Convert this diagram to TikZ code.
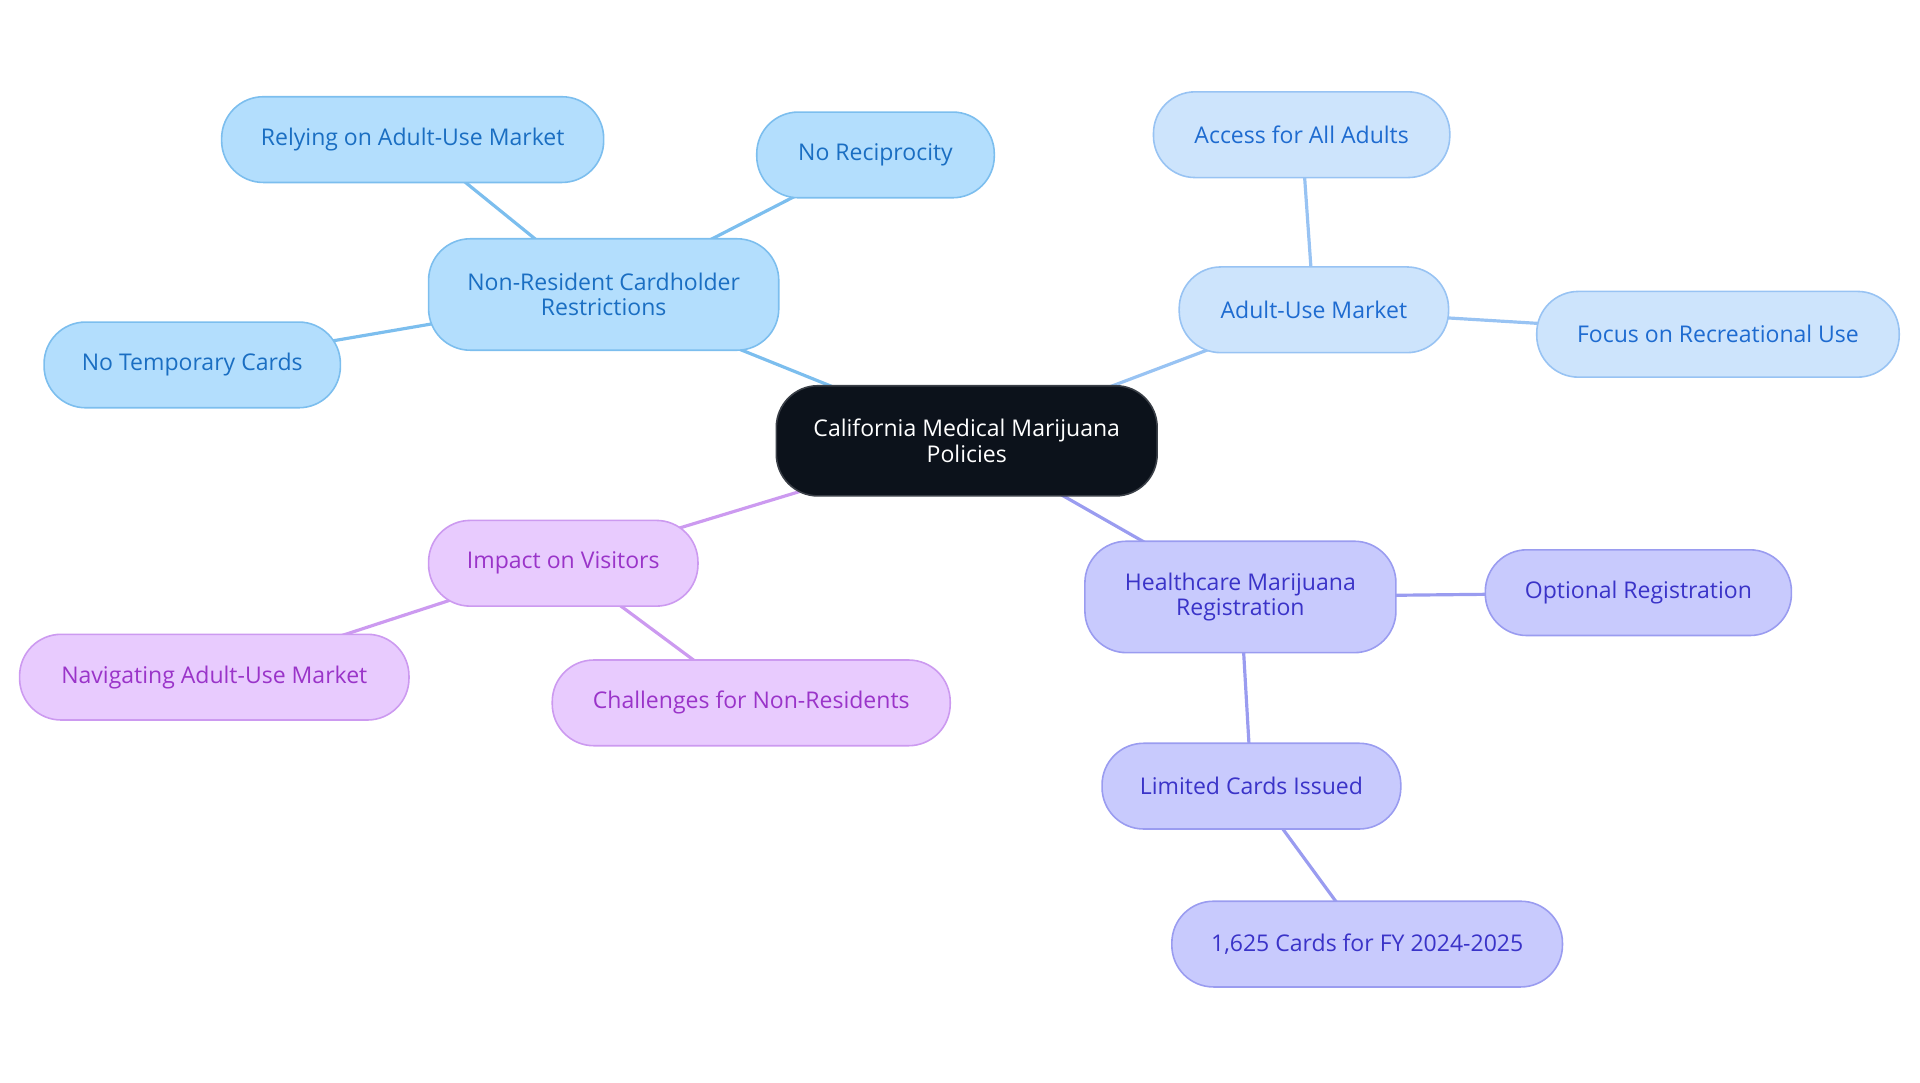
\documentclass[tikz,border=0pt]{standalone}
\usepackage{fontspec}
\setmainfont{Open Sans}
\usetikzlibrary{backgrounds}
\definecolor{rootfill}{HTML}{0C121B}
\definecolor{rootline}{HTML}{3A3F47}
\definecolor{skyfill}{HTML}{B3DEFD}
\definecolor{skyline}{HTML}{7CBEEE}
\definecolor{skytext}{HTML}{1A6EC2}
\definecolor{palefill}{HTML}{CDE4FC}
\definecolor{paleline}{HTML}{98C3F3}
\definecolor{paletext}{HTML}{1E6BD0}
\definecolor{violfill}{HTML}{C8CAFD}
\definecolor{violline}{HTML}{9A9CF0}
\definecolor{violtext}{HTML}{3A33C8}
\definecolor{pinkfill}{HTML}{E8CBFE}
\definecolor{pinkline}{HTML}{CC9AF0}
\definecolor{pinktext}{HTML}{9A34C9}
\begin{document}
\begin{tikzpicture}[x=1pt,y=-1pt,
  box/.style={rectangle,rounded corners=34pt,draw,line width=1.3pt,
    minimum height=70pt,inner xsep=30pt,align=center,
    font=\fontsize{18.8}{21}\selectfont},
  rootbox/.style={box,fill=rootfill,draw=rootline,text=white,minimum height=90pt},
  skybox/.style={box,fill=skyfill,draw=skyline,text=skytext},
  palebox/.style={box,fill=palefill,draw=paleline,text=paletext},
  violbox/.style={box,fill=violfill,draw=violline,text=violtext},
  pinkbox/.style={box,fill=pinkfill,draw=pinkline,text=pinktext},
  link/.style={line width=2.6pt}]
\useasboundingbox (0,0) rectangle (1568,884);
%
\node[rootbox,minimum width=311pt] (root) at (789.5,360) {California Medical Marijuana\\Policies};
%
\node[skybox,minimum width=286pt,minimum height=91pt] (nrc) at (493,240.5) {Non-Resident Cardholder\\Restrictions};
\node[skybox,minimum width=312pt] (rely) at (337,114) {Relying on Adult-Use Market};
\node[skybox,minimum width=194pt] (recip) at (715,126.5) {No Reciprocity};
\node[skybox,minimum width=242pt] (temp) at (157,298) {No Temporary Cards};
%
\node[palebox,minimum width=220pt] (adult) at (1073,253) {Adult-Use Market};
\node[palebox,minimum width=242pt] (access) at (1063,110) {Access for All Adults};
\node[palebox,minimum width=296pt] (recr) at (1403,273) {Focus on Recreational Use};
%
\node[pinkbox,minimum width=220pt] (impact) at (460,460) {Impact on Visitors};
\node[pinkbox,minimum width=318pt] (navig) at (175,553) {Navigating Adult-Use Market};
\node[pinkbox,minimum width=325pt] (chall) at (613.5,574) {Challenges for Non-Residents};
%
\node[violbox,minimum width=254pt,minimum height=91pt] (health) at (1013,487.5) {Healthcare Marijuana\\Registration};
\node[violbox,minimum width=250pt] (option) at (1338,484) {Optional Registration};
\node[violbox,minimum width=244pt] (limit) at (1022,642) {Limited Cards Issued};
\node[violbox,minimum width=319pt] (cards) at (1116.5,771) {1,625 Cards for FY 2024-2025};
%
\begin{scope}[on background layer]
\draw[link,skyline] (root.center) -- (nrc.center);
\draw[link,skyline] (nrc.center) -- (rely.center);
\draw[link,skyline] (nrc.center) -- (recip.center);
\draw[link,skyline] (nrc.center) -- (temp.center);
%
\draw[link,paleline] (root.center) -- (adult.center);
\draw[link,paleline] (adult.center) -- (access.center);
\draw[link,paleline] (adult.center) -- (recr.center);
%
\draw[link,pinkline] (root.center) -- (impact.center);
\draw[link,pinkline] (impact.center) -- (navig.center);
\draw[link,pinkline] (impact.center) -- (chall.center);
%
\draw[link,violline] (root.center) -- (health.center);
\draw[link,violline] (health.center) -- (option.center);
\draw[link,violline] (health.center) -- (limit.center);
\draw[link,violline] (limit.center) -- (cards.center);
\end{scope}
\end{tikzpicture}
\end{document}
